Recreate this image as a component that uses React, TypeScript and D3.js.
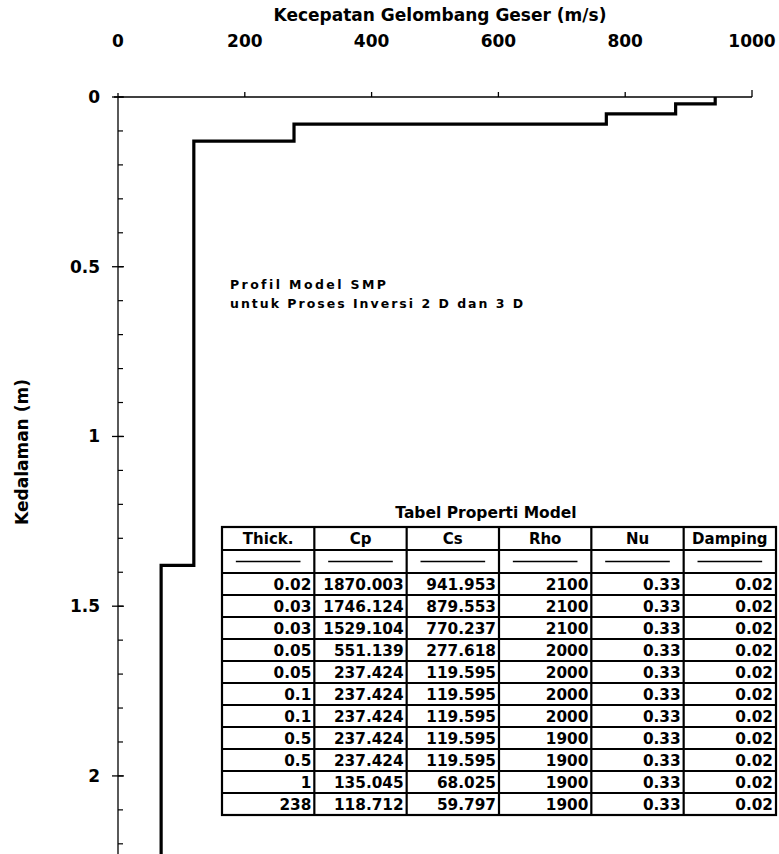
import React from "react";
import * as d3 from "d3";

const headers = ["Thick.", "Cp", "Cs", "Rho", "Nu", "Damping"];
const thick = [0.02, 0.03, 0.03, 0.05, 0.05, 0.1, 0.1, 0.5, 0.5, 1, 238];
const cp = [1870.003, 1746.124, 1529.104, 551.139, 237.424, 237.424, 237.424, 237.424, 237.424, 135.045, 118.712];
const cs = [941.953, 879.553, 770.237, 277.618, 119.595, 119.595, 119.595, 119.595, 119.595, 68.025, 59.797];
const rho = [2100, 2100, 2100, 2000, 2000, 2000, 2000, 1900, 1900, 1900, 1900];
const nu = [0.33, 0.33, 0.33, 0.33, 0.33, 0.33, 0.33, 0.33, 0.33, 0.33, 0.33];
const damping = [0.02, 0.02, 0.02, 0.02, 0.02, 0.02, 0.02, 0.02, 0.02, 0.02, 0.02];
const xTicks = [0, 200, 400, 600, 800, 1000];
const yTicksMajor = [0, 0.5, 1, 1.5, 2];

const W = 779;
const H = 854;
const FONT = "'DejaVu Sans', sans-serif";

export default function App() {
  const x = d3.scaleLinear().domain([0, 1000]).range([118, 752]);
  const y = d3.scaleLinear().domain([0, 2.23]).range([97, 854]);

  const pts: [number, number][] = [];
  let top = 0;
  thick.forEach((t, i) => {
    pts.push([cs[i], top]);
    pts.push([cs[i], top + t]);
    top += t;
  });
  const line = d3
    .line<[number, number]>()
    .x((d) => x(d[0]))
    .y((d) => y(d[1]));

  const minorTicks = d3.range(0, 23).map((i) => i / 10);

  const cols = d3.scaleBand<number>().domain(d3.range(6)).range([222, 776]).paddingInner(0);
  const tableTop = 527;
  const headerBottom = 550;
  const dashBottom = 573;
  const tableBottom = 815;
  const rows = d3.scaleBand<number>().domain(d3.range(thick.length)).range([dashBottom, tableBottom]);
  const columnsData = [thick, cp, cs, rho, nu, damping];

  return (
    <svg
      width={W}
      height={H}
      style={{ position: "absolute", left: 0, top: 0, background: "#fff" }}
      fontFamily={FONT}
    >
      <defs>
        <clipPath id="plotclip">
          <rect x={x(0)} y={y(0) - 5} width={x(1000) - x(0) + 5} height={H - y(0) + 5} />
        </clipPath>
      </defs>
      <rect x={0} y={0} width={W} height={H} fill="#fff" />

      <text x={440} y={21} textAnchor="middle" fontSize={17} fontWeight="bold" fill="#000">
        Kecepatan Gelombang Geser (m/s)
      </text>

      {/* x axis */}
      <line x1={x(0) - 4} x2={x(1000)} y1={y(0)} y2={y(0)} stroke="#000" strokeWidth={1.3} />
      {xTicks.map((t) => (
        <g key={"xt" + t}>
          {t > 0 && (
            <line x1={x(t)} x2={x(t)} y1={y(0)} y2={y(0) - (t === 1000 ? 7 : 5)} stroke="#000" strokeWidth={1.3} />
          )}
          <text x={x(t)} y={47} textAnchor="middle" fontSize={17} fontWeight="bold" fill="#000">
            {t}
          </text>
        </g>
      ))}

      {/* y axis */}
      <line x1={x(0)} x2={x(0)} y1={y(0) - 4} y2={H} stroke="#000" strokeWidth={1.3} />
      {minorTicks.map((t) => (
        <line key={"mt" + t} x1={x(0)} x2={x(0) + 5} y1={y(t)} y2={y(t)} stroke="#000" strokeWidth={1.2} />
      ))}
      {yTicksMajor.map((t) => (
        <g key={"yt" + t}>
          <line x1={x(0) - 6} x2={x(0) + 6} y1={y(t)} y2={y(t)} stroke="#000" strokeWidth={1.3} />
          <text x={x(0) - 18} y={y(t) + 6} textAnchor="end" fontSize={17} fontWeight="bold" fill="#000">
            {t}
          </text>
        </g>
      ))}
      <text
        transform={`translate(28, 452) rotate(-90)`}
        textAnchor="middle"
        fontSize={17}
        fontWeight="bold"
        fill="#000"
      >
        Kedalaman (m)
      </text>

      {/* profile */}
      <path d={line(pts) || ""} fill="none" stroke="#000" strokeWidth={3.2} clipPath="url(#plotclip)" />

      {/* annotation */}
      <text x={230} y={289} fontSize={12.5} fontWeight="bold" letterSpacing={2.4} fill="#000">
        Profil Model SMP
      </text>
      <text x={230} y={308} fontSize={12.5} fontWeight="bold" letterSpacing={2} fill="#000">
        untuk Proses Inversi 2 D dan 3 D
      </text>

      <text x={486} y={518} textAnchor="middle" fontSize={15.5} fontWeight="bold" fill="#000">
        Tabel Properti Model
      </text>

      {/* table grid */}
      <g stroke="#000" strokeWidth={2.2} fill="none">
        <rect x={222} y={tableTop} width={776 - 222} height={tableBottom - tableTop} />
        <line x1={222} x2={776} y1={headerBottom} y2={headerBottom} />
        <line x1={222} x2={776} y1={dashBottom} y2={dashBottom} />
        {d3.range(thick.length).map((i) => (
          <line key={"rl" + i} x1={222} x2={776} y1={rows(i)! + rows.bandwidth()} y2={rows(i)! + rows.bandwidth()} />
        ))}
        {d3.range(1, 6).map((c) => (
          <line key={"cl" + c} x1={cols(c)!} x2={cols(c)!} y1={tableTop} y2={tableBottom} />
        ))}
        {d3.range(6).map((c) => (
          <line
            key={"dl" + c}
            x1={cols(c)! + cols.bandwidth() * 0.15}
            x2={cols(c)! + cols.bandwidth() * 0.85}
            y1={(headerBottom + dashBottom) / 2}
            y2={(headerBottom + dashBottom) / 2}
            strokeWidth={1.6}
          />
        ))}
      </g>
      {headers.map((h, c) => (
        <text
          key={"h" + c}
          x={cols(c)! + cols.bandwidth() / 2}
          y={headerBottom - 6}
          textAnchor="middle"
          fontSize={15}
          fontWeight="bold"
          fill="#000"
        >
          {h}
        </text>
      ))}
      {columnsData.map((col, c) =>
        col.map((v, i) => (
          <text
            key={"d" + c + "-" + i}
            x={cols(c)! + cols.bandwidth() - 3}
            y={rows(i)! + rows.bandwidth() / 2 + 6}
            textAnchor="end"
            fontSize={15.3}
            fontWeight="bold"
            fill="#000"
          >
            {String(v)}
          </text>
        ))
      )}
    </svg>
  );
}
